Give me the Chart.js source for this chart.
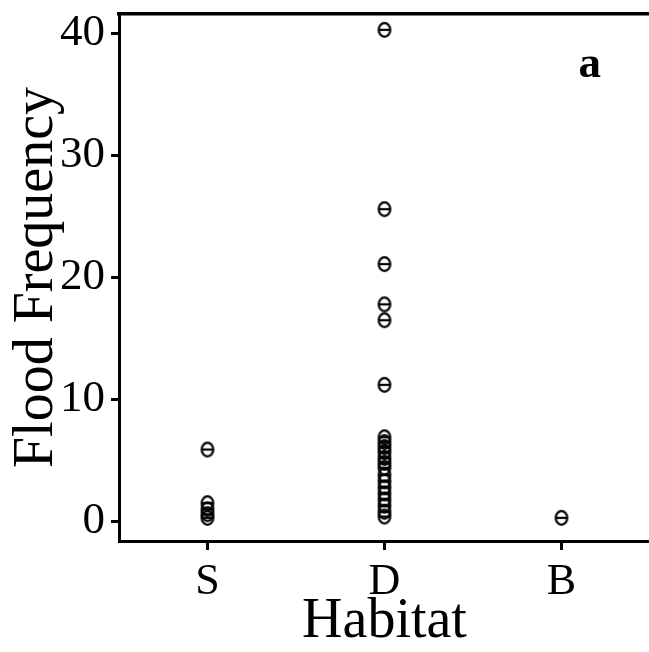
<!DOCTYPE html>
<html>
<head>
<meta charset="utf-8">
<script src="https://cdn.jsdelivr.net/npm/chart.js@4/dist/chart.umd.min.js"></script>
<style>
  html, body { margin: 0; padding: 0; background: #fff; overflow: hidden; }
  #wrap { width: 649px; height: 652px; overflow: hidden; }
  canvas { display: block; }
</style>
</head>
<body>
<div id="wrap"><canvas id="c" width="658" height="652"></canvas></div>
<script>
// Habitat categories (positions 1, 2, 3 on the x axis)
const habitats = ['S', 'D', 'B'];

// Flood frequency observations per habitat
const floodS = [5.9, 1.5, 1.0, 0.6, 0.3];
const floodD = [40.3, 25.6, 21.1, 17.8, 16.5, 11.2,
                6.9, 6.5, 6.1, 5.7, 5.2, 4.8, 4.4, 3.8, 3.3, 2.8, 2.3, 1.8, 1.3, 0.8, 0.4];
const floodB = [0.3];

const yTicks = [0, 10, 20, 30, 40];
const panelLabel = 'a';

const groups = [floodS, floodD, floodB];
const points = [];
groups.forEach((vals, i) => vals.forEach(v => points.push({ x: i + 1, y: v })));

// theta-shaped marker: open ellipse with a horizontal bar
function makeMarker() {
  const cv = document.createElement('canvas');
  cv.width = 18; cv.height = 20;
  const g = cv.getContext('2d');
  g.strokeStyle = '#000';
  g.lineWidth = 2.2;
  g.beginPath();
  g.ellipse(9, 10, 5.8, 6.8, 0, 0, Math.PI * 2);
  g.stroke();
  g.beginPath();
  g.moveTo(3.2, 10);
  g.lineTo(14.8, 10);
  g.stroke();
  return cv;
}

const serif = 'Liberation Serif';

// scale boxes get fixed sizes and no extra label padding
function fixBox(size, horizontal) {
  return s => {
    if (horizontal) s.height = size; else s.width = size;
    s.paddingTop = 0; s.paddingBottom = 0; s.paddingLeft = 0; s.paddingRight = 0;
  };
}

const panelLabelPlugin = {
  id: 'panelLabel',
  afterDatasetsDraw(chart) {
    const { ctx, scales } = chart;
    ctx.save();
    ctx.font = 'bold 45px "' + serif + '"';
    ctx.fillStyle = '#000';
    ctx.textAlign = 'center';
    ctx.textBaseline = 'middle';
    ctx.fillText(panelLabel, scales.x.getPixelForValue(3.16), scales.y.getPixelForValue(37.4));
    ctx.restore();
  }
};

new Chart(document.getElementById('c'), {
  type: 'scatter',
  data: {
    datasets: [{
      data: points,
      pointStyle: makeMarker(),
      pointRadius: 7,
      pointHoverRadius: 7
    }]
  },
  options: {
    responsive: false,
    animation: false,
    events: [],
    layout: { padding: 0 },
    plugins: { legend: { display: false }, tooltip: { enabled: false } },
    scales: {
      x: {
        type: 'linear',
        position: 'bottom',
        min: 0.5,
        max: 3.5,
        afterBuildTicks: s => { s.ticks = habitats.map((_, i) => ({ value: i + 1 })); },
        afterFit: fixBox(111, true),
        ticks: {
          callback: v => habitats[v - 1],
          color: '#000',
          font: { family: serif, size: 44 },
          padding: 6,
          maxRotation: 0
        },
        grid: { display: true, drawOnChartArea: false, drawTicks: true, tickLength: 9, color: '#000', lineWidth: 3 },
        border: { display: true, color: '#000', width: 3 },
        title: {
          display: true,
          text: 'Habitat',
          color: '#000',
          font: { family: serif, size: 56 },
          padding: { top: 0, bottom: -4 }
        }
      },
      x2: {
        type: 'linear',
        position: 'top',
        min: 0.5,
        max: 3.5,
        afterFit: fixBox(14, true),
        ticks: { display: false },
        grid: { display: false, drawTicks: false },
        border: { display: true, color: '#000', width: 3.5 }
      },
      y: {
        type: 'linear',
        position: 'left',
        min: -1.6,
        max: 41.6,
        afterBuildTicks: s => { s.ticks = yTicks.map(v => ({ value: v })); },
        afterFit: fixBox(119, false),
        ticks: {
          color: '#000',
          font: { family: serif, size: 45 },
          padding: 6
        },
        grid: { display: true, drawOnChartArea: false, drawTicks: true, tickLength: 8, color: '#000', lineWidth: 3 },
        border: { display: true, color: '#000', width: 3 },
        title: {
          display: true,
          text: 'Flood Frequency',
          color: '#000',
          font: { family: serif, size: 56 },
          padding: { top: 4, bottom: 0 }
        }
      }
    }
  },
  plugins: [panelLabelPlugin]
});
</script>
</body>
</html>
